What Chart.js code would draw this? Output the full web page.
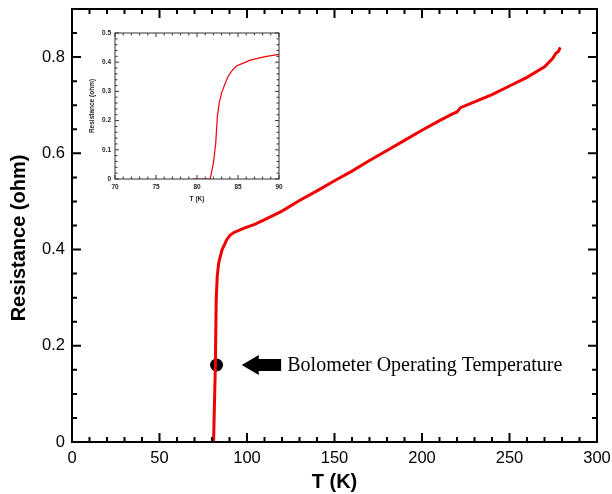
<!DOCTYPE html>
<html>
<head>
<meta charset="utf-8">
<script src="https://cdn.jsdelivr.net/npm/chart.js@4.4.0/dist/chart.umd.min.js"></script>
<style>
  body { margin: 0; background: #fff; }
  #wrap { position: relative; width: 612px; height: 494px; }
  #main { position: absolute; left: 0; top: 0; }
  #inset { position: absolute; left: 80px; top: 25px; }
</style>
</head>
<body>
<div id="wrap">
  <canvas id="main" width="612" height="494"></canvas>
  <canvas id="inset" width="205" height="185"></canvas>
</div>
<script>
// ---- data ----
const mainT = [80.9, 81.4, 81.9, 82.4, 83.0, 83.8, 84.7, 85.7, 86.6, 88.5, 90.4, 92.3, 98, 104, 109.5,
  120, 130, 140, 150, 160, 170, 180, 190, 200, 210, 218, 220, 222, 230, 240, 250, 260, 270, 274.6, 276.5, 278, 279];
const mainR = [0, 0.08, 0.156, 0.295, 0.345, 0.371, 0.385, 0.399, 0.406, 0.421, 0.43, 0.435, 0.444, 0.452, 0.461,
  0.48, 0.502, 0.522, 0.543, 0.563, 0.585, 0.606, 0.627, 0.648, 0.668, 0.683, 0.686, 0.695, 0.707, 0.722, 0.740, 0.758, 0.780, 0.797, 0.808, 0.812, 0.820];

const insetT = [79.5, 80.5, 81.6, 82.0, 82.28, 82.48, 82.7, 83.0, 83.4, 83.8, 84.3, 84.8, 85.5, 86.5, 87.5, 88.5, 90];
const insetR = [0, 0, 0, 0.054, 0.122, 0.213, 0.26, 0.295, 0.325, 0.352, 0.372, 0.387, 0.395, 0.407, 0.414, 0.42, 0.427];

// operating point marker + arrow + note
const opPoint = { T: 82.6, R: 0.16 };
const arrowT = [97, 119.5];   // tip, tail
const noteT = 123;
const noteText = 'Bolometer Operating Temperature';

const isMult = (v, s) => Math.abs(v / s - Math.round(v / s)) < 1e-6;

// fixed box sizes, no extra padding for end labels
function fixX(h) { return s => { s.height = h; s.paddingLeft = 0; s.paddingRight = 0; }; }
function fixY(w) { return s => { s.width = w; s.paddingTop = 0; s.paddingBottom = 0; }; }

// inward ticks on all four sides + box frame
function framePlugin(o) {
  return {
    id: 'frame',
    beforeDatasetsDraw(chart) {
      if (!o.fill) return;
      const { ctx, chartArea: a } = chart;
      ctx.save();
      ctx.fillStyle = o.fill;
      ctx.fillRect(a.left, a.top, a.right - a.left, a.bottom - a.top);
      ctx.restore();
    },
    afterDatasetsDraw(chart) {
      const { ctx, chartArea: a, scales: { x, y } } = chart;
      ctx.save();
      ctx.strokeStyle = o.color;
      ctx.lineWidth = o.lineWidth;
      ctx.beginPath();
      x.ticks.forEach(t => {
        const px = x.getPixelForValue(t.value);
        const len = isMult(t.value, o.xMajor) ? o.major : o.minor;
        ctx.moveTo(px, a.bottom); ctx.lineTo(px, a.bottom - len);
        ctx.moveTo(px, a.top); ctx.lineTo(px, a.top + len);
      });
      y.ticks.forEach(t => {
        const py = y.getPixelForValue(t.value);
        const len = isMult(t.value, o.yMajor) ? o.major : o.minor;
        ctx.moveTo(a.left, py); ctx.lineTo(a.left + len, py);
        ctx.moveTo(a.right, py); ctx.lineTo(a.right - len, py);
      });
      ctx.stroke();
      ctx.strokeRect(a.left, a.top, a.right - a.left, a.bottom - a.top);
      ctx.restore();
      if (o.extra) o.extra(chart);
    }
  };
}

function drawMainExtras(chart) {
  const { ctx, scales: { x, y } } = chart;
  ctx.save();
  // y axis title
  ctx.fillStyle = '#000';
  ctx.font = 'bold 20px "Liberation Sans", Arial, sans-serif';
  ctx.textAlign = 'center';
  ctx.textBaseline = 'middle';
  ctx.translate(19, 238);
  ctx.rotate(-Math.PI / 2);
  ctx.fillText('Resistance (ohm)', 0, 0);
  ctx.restore();

  // arrow
  const py = y.getPixelForValue(opPoint.R);
  const tip = x.getPixelForValue(arrowT[0]);
  const tail = x.getPixelForValue(arrowT[1]);
  const headLen = 17, headH = 10, bodyH = 6;
  ctx.save();
  ctx.fillStyle = '#000';
  ctx.beginPath();
  ctx.moveTo(tip, py);
  ctx.lineTo(tip + headLen, py - headH);
  ctx.lineTo(tip + headLen, py - bodyH);
  ctx.lineTo(tail, py - bodyH);
  ctx.lineTo(tail, py + bodyH);
  ctx.lineTo(tip + headLen, py + bodyH);
  ctx.lineTo(tip + headLen, py + headH);
  ctx.closePath();
  ctx.fill();
  ctx.font = '20px "Liberation Serif", "Times New Roman", serif';
  ctx.textAlign = 'left';
  ctx.textBaseline = 'middle';
  ctx.fillText(noteText, x.getPixelForValue(noteT), py + 1);
  ctx.restore();
}

const sans = '"Liberation Sans", Arial, sans-serif';

new Chart(document.getElementById('main'), {
  type: 'scatter',
  data: {
    datasets: [
      {
        data: mainT.map((t, i) => ({ x: t, y: mainR[i] })),
        showLine: true, borderColor: '#f00000', borderWidth: 3, pointRadius: 0, tension: 0
      },
      {
        data: [{ x: opPoint.T, y: opPoint.R }],
        pointRadius: 6.5, backgroundColor: '#000', borderColor: '#000', borderWidth: 0
      }
    ]
  },
  options: {
    responsive: false, animation: false,
    layout: { padding: { top: 9, right: 15, left: 0, bottom: 0 } },
    plugins: { legend: { display: false }, tooltip: { enabled: false } },
    scales: {
      x: {
        type: 'linear', min: 0, max: 300,
        afterFit: fixX(52),
        grid: { display: false, drawTicks: false },
        border: { display: false },
        ticks: {
          stepSize: 10, autoSkip: false, maxRotation: 0, padding: 7, color: '#000',
          font: { family: sans, size: 16.5 },
          callback: v => isMult(v, 50) ? v : ''
        },
        title: { display: true, text: 'T (K)', color: '#000', padding: 0,
          font: { family: sans, size: 20, weight: 'bold' } }
      },
      y: {
        type: 'linear', min: 0, max: 0.9,
        afterFit: fixY(72),
        grid: { display: false, drawTicks: false },
        border: { display: false },
        ticks: {
          stepSize: 0.05, autoSkip: false, padding: 7, color: '#000',
          font: { family: sans, size: 16.5 },
          callback: v => isMult(v, 0.2) ? (Math.abs(v) < 1e-9 ? '0' : v.toFixed(1)) : ''
        }
      }
    }
  },
  plugins: [framePlugin({ color: '#000', lineWidth: 2, major: 9, minor: 5, xMajor: 50, yMajor: 0.2, extra: drawMainExtras })]
});

new Chart(document.getElementById('inset'), {
  type: 'scatter',
  data: {
    datasets: [{
      data: insetT.map((t, i) => ({ x: t, y: insetR[i] })),
      showLine: true, borderColor: '#f00000', borderWidth: 1.2, pointRadius: 0, tension: 0
    }]
  },
  options: {
    responsive: false, animation: false,
    layout: { padding: { top: 8, right: 6, left: 0, bottom: 0 } },
    plugins: { legend: { display: false }, tooltip: { enabled: false } },
    scales: {
      x: {
        type: 'linear', min: 70, max: 90,
        afterFit: fixX(31),
        grid: { display: false, drawTicks: false },
        border: { display: false },
        ticks: {
          stepSize: 1, autoSkip: false, maxRotation: 0, padding: 4, color: '#222',
          font: { family: sans, size: 6.5, weight: 'bold' },
          callback: v => isMult(v, 5) ? v : ''
        },
        title: { display: true, text: 'T (K)', color: '#222', padding: { top: 0, bottom: 7 },
          font: { family: sans, size: 6.5, weight: 'bold' } }
      },
      y: {
        type: 'linear', min: 0, max: 0.5,
        afterFit: fixY(35),
        grid: { display: false, drawTicks: false },
        border: { display: false },
        ticks: {
          stepSize: 0.02, autoSkip: false, padding: 4, color: '#222',
          font: { family: sans, size: 6.5, weight: 'bold' },
          callback: v => isMult(v, 0.1) ? (Math.abs(v) < 1e-9 ? '0' : v.toFixed(1)) : ''
        },
        title: { display: true, text: 'Resistance (ohm)', color: '#222', padding: { top: 8, bottom: 0 },
          font: { family: sans, size: 6.5, weight: 'bold' } }
      }
    }
  },
  plugins: [framePlugin({ color: '#333', lineWidth: 1, major: 4, minor: 2.5, xMajor: 5, yMajor: 0.1, fill: '#fff' })]
});
</script>
</body>
</html>
